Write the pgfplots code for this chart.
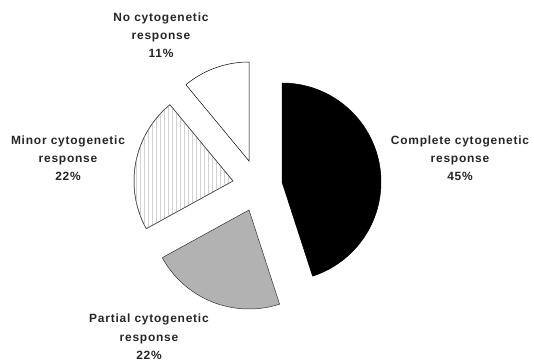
\documentclass[border=0pt]{standalone}
\usepackage{pgfplots}
\pgfplotsset{compat=1.18}
\usetikzlibrary{patterns.meta}
\usepackage{fontspec}
\setmainfont{Liberation Sans}
\newfontfamily\labfont[LetterSpace=6.5]{Liberation Sans}
\begin{document}
\begin{tikzpicture}
\path[use as bounding box] (0,0) rectangle (534bp,362bp);
% shares of the four responses, in percent
\def\pA{45}\def\pB{22}\def\pC{22}\def\pD{11}
\pgfmathsetmacro\aA{90}
\pgfmathsetmacro\aB{\aA-3.6*\pA}
\pgfmathsetmacro\aC{\aB-3.6*\pB}
\pgfmathsetmacro\aD{\aC-3.6*\pC}
\pgfmathsetmacro\aE{\aD-3.6*\pD}
\def\R{99}
\begin{axis}[at={(0,0)}, anchor=south west, scale only axis, width=534bp, height=362bp,
  xmin=0, xmax=534, ymin=0, ymax=362, hide axis, clip=false]
% Complete
\addplot[fill=black, draw=black, line width=0.5pt, domain=\aB:\aA, samples=90]
  ({282+\R*cos(x)},{180+\R*sin(x)}) -- (axis cs:282,180) -- cycle;
% Partial
\addplot[fill=black!30, draw=black!80, line width=0.5pt, domain=\aC:\aB, samples=60]
  ({249+\R*cos(x)},{152+\R*sin(x)}) -- (axis cs:249,152) -- cycle;
% Minor
\addplot[fill=white, draw=black!70, line width=0.5pt, domain=\aD:\aC, samples=60]
  ({233+\R*cos(x)},{181+\R*sin(x)}) -- (axis cs:233,181) -- cycle;
\addplot[pattern={Lines[angle=90, distance=4bp, line width=0.7bp]}, pattern color=black!18, draw=black!70, line width=0.5pt, domain=\aD:\aC, samples=60]
  ({233+\R*cos(x)},{181+\R*sin(x)}) -- (axis cs:233,181) -- cycle;
% None
\addplot[fill=white, draw=black, line width=0.5pt, domain=\aE:\aD, samples=40]
  ({249+\R*cos(x)},{201+\R*sin(x)}) -- (axis cs:249,201) -- cycle;
\tikzset{lab/.style={anchor=base, inner sep=0pt, outer sep=0pt, font=\labfont\bfseries\fontsize{12}{18}\selectfont, text=black!85}}
% No response (baselines 22, 40, 58 px from top)
\node[lab] at (axis cs:161,340) {No cytogenetic};
\node[lab] at (axis cs:161,322) {response};
\node[lab] at (axis cs:161,304) {11\%};
% Minor (145, 163, 181)
\node[lab] at (axis cs:68,217) {Minor cytogenetic};
\node[lab] at (axis cs:68,199) {response};
\node[lab] at (axis cs:68,181) {22\%};
% Complete (145, 163, 181)
\node[lab] at (axis cs:460,217) {Complete cytogenetic};
\node[lab] at (axis cs:460,199) {response};
\node[lab] at (axis cs:460,181) {45\%};
% Partial (323, 341, 359)
\node[lab] at (axis cs:149,39) {Partial cytogenetic};
\node[lab] at (axis cs:149,21) {response};
\node[lab] at (axis cs:149,3) {22\%};
\end{axis}
\end{tikzpicture}
\end{document}
